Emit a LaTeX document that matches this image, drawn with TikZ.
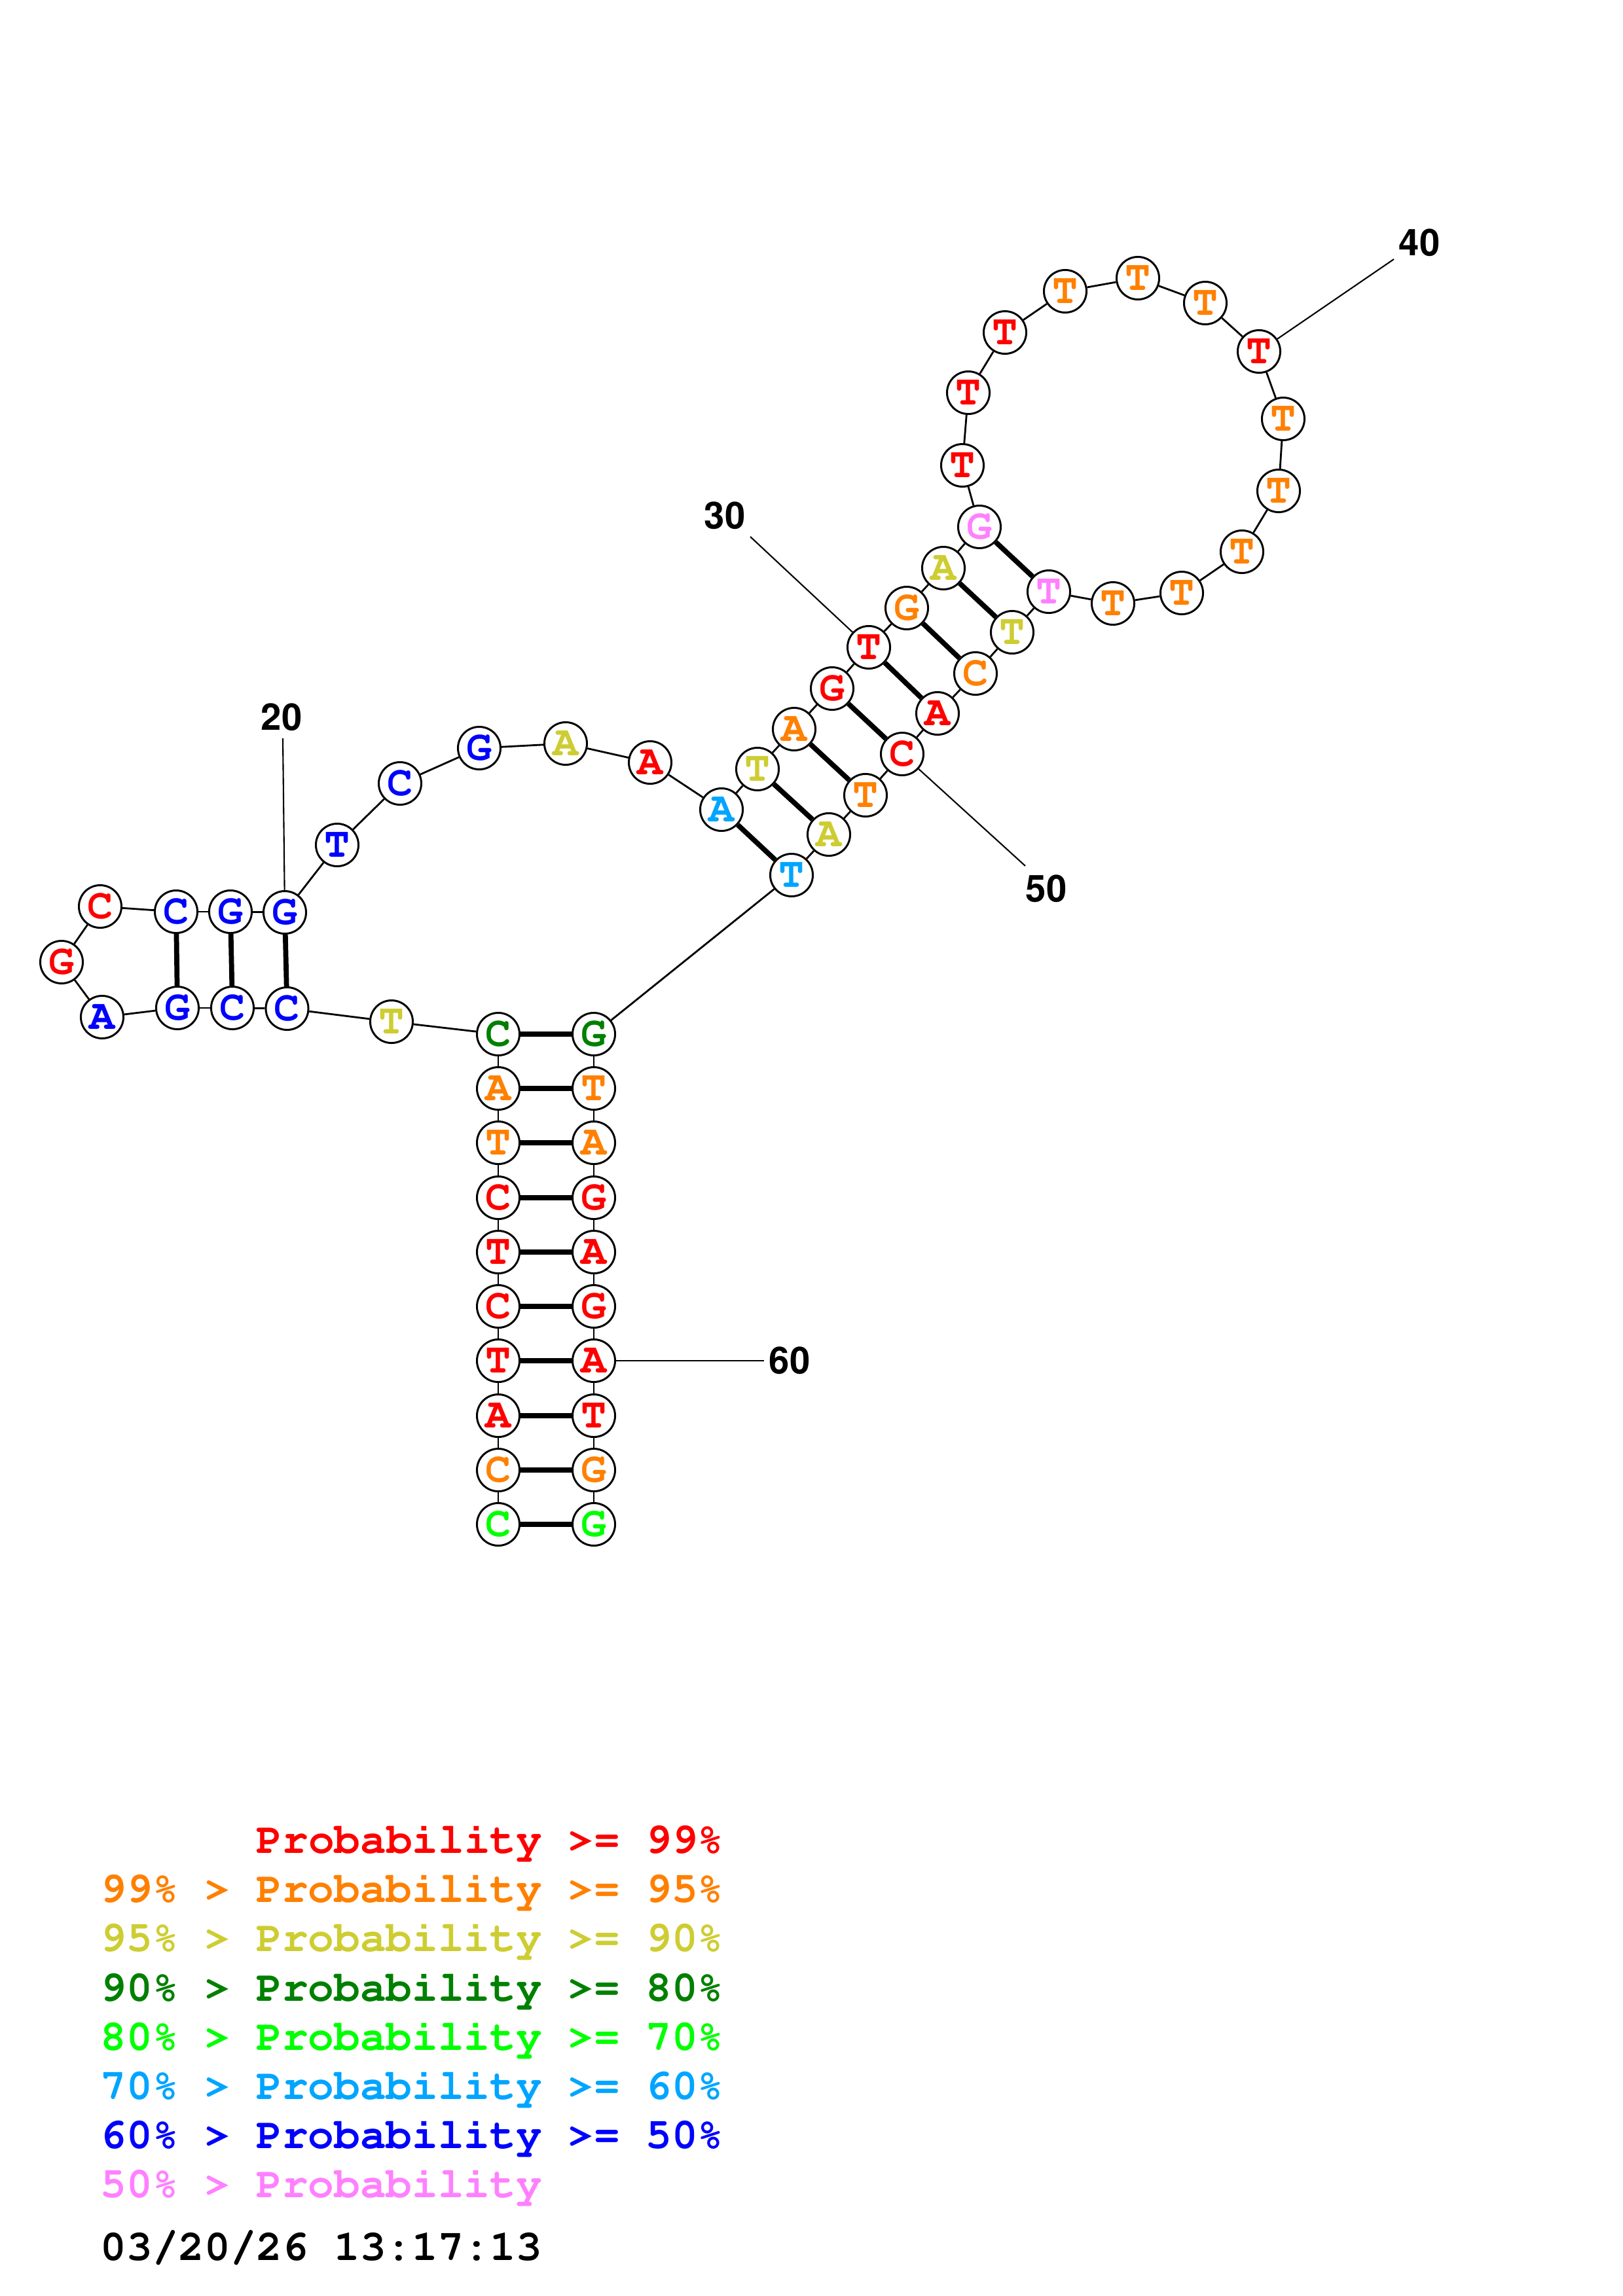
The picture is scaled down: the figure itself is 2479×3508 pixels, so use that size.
\documentclass[tikz,border=0pt]{standalone}
\usepackage[T1]{fontenc}
\definecolor{cR}{RGB}{255,0,0}
\definecolor{cO}{RGB}{255,128,0}
\definecolor{cY}{RGB}{205,205,50}
\definecolor{cDG}{RGB}{0,128,0}
\definecolor{cLG}{RGB}{0,255,0}
\definecolor{cSB}{RGB}{0,165,255}
\definecolor{cB}{RGB}{0,0,255}
\definecolor{cP}{RGB}{255,128,255}
\newcommand{\ntfont}{\fontfamily{pcr}\fontseries{b}\fontsize{18.5}{18.5}\selectfont}
\newcommand{\lgfont}{\fontfamily{pcr}\fontseries{b}\fontsize{18.8}{20}\selectfont}
\newcommand{\numfont}{\fontfamily{phv}\fontseries{b}\fontsize{16}{16}\selectfont}
\tikzset{
  nt/.style={circle, draw=black, line width=0.85pt, minimum size=0.65cm, inner sep=0pt, fill=white, font=\ntfont},
  bb/.style={line width=0.8pt},
  bp/.style={line width=2.2pt},
  lbl/.style={font=\numfont, inner sep=0pt},
  lbline/.style={line width=0.6pt},
  lg/.style={font=\lgfont, anchor=base west, inner sep=0pt}
}
\begin{document}
\begin{tikzpicture}[x=0.01cm, y=-0.01cm]
\useasboundingbox (0,0) rectangle (2479,3508);
% stem left
\node[nt,text=cLG] (n1) at (761,2329) {C};
\node[nt,text=cO] (n2) at (761,2246) {C};
\node[nt,text=cR] (n3) at (761,2163) {A};
\node[nt,text=cR] (n4) at (761,2079) {T};
\node[nt,text=cR] (n5) at (761,1996) {C};
\node[nt,text=cR] (n6) at (761,1913) {T};
\node[nt,text=cR] (n7) at (761,1830) {C};
\node[nt,text=cO] (n8) at (761,1746) {T};
\node[nt,text=cO] (n9) at (761,1663) {A};
\node[nt,text=cDG] (n10) at (761,1580) {C};
\node[nt,text=cY] (n11) at (598,1561) {T};
\node[nt,text=cB] (n12) at (438.5,1541) {C};
\node[nt,text=cB] (n13) at (355,1540) {C};
\node[nt,text=cB] (n14) at (271,1540) {G};
\node[nt,text=cB] (n15) at (156,1554) {A};
\node[nt,text=cR] (n16) at (94,1470) {G};
\node[nt,text=cR] (n17) at (153,1385) {C};
\node[nt,text=cB] (n18) at (269,1393) {C};
\node[nt,text=cB] (n19) at (352,1393) {G};
\node[nt,text=cB] (n20) at (435,1394) {G};
\node[nt,text=cB] (n21) at (515,1291) {T};
\node[nt,text=cB] (n22) at (611,1197) {C};
\node[nt,text=cB] (n23) at (732,1143) {G};
\node[nt,text=cY] (n24) at (864,1136) {A};
\node[nt,text=cR] (n25) at (993,1165) {A};
\node[nt,text=cSB] (n26) at (1102,1237) {A};
\node[nt,text=cY] (n27) at (1157,1175) {T};
\node[nt,text=cO] (n28) at (1213,1114) {A};
\node[nt,text=cR] (n29) at (1271,1052) {G};
\node[nt,text=cR] (n30) at (1327,989) {T};
\node[nt,text=cO] (n31) at (1385,929) {G};
\node[nt,text=cY] (n32) at (1441,868) {A};
\node[nt,text=cP] (n33) at (1496,805) {G};
\node[nt,text=cR] (n34) at (1470,711) {T};
\node[nt,text=cR] (n35) at (1479,600) {T};
\node[nt,text=cR] (n36) at (1535,508) {T};
\node[nt,text=cO] (n37) at (1627,445) {T};
\node[nt,text=cO] (n38) at (1738,425) {T};
\node[nt,text=cO] (n39) at (1841,463) {T};
\node[nt,text=cR] (n40) at (1923,537) {T};
\node[nt,text=cO] (n41) at (1960,640) {T};
\node[nt,text=cO] (n42) at (1953,750) {T};
\node[nt,text=cO] (n43) at (1897,843) {T};
\node[nt,text=cO] (n44) at (1805,906) {T};
\node[nt,text=cO] (n45) at (1700,922) {T};
\node[nt,text=cP] (n46) at (1602,904) {T};
\node[nt,text=cY] (n47) at (1546,966) {T};
\node[nt,text=cO] (n48) at (1490,1029) {C};
\node[nt,text=cR] (n49) at (1432,1090) {A};
\node[nt,text=cR] (n50) at (1378,1152) {C};
\node[nt,text=cO] (n51) at (1322,1215) {T};
\node[nt,text=cY] (n52) at (1266,1275) {A};
\node[nt,text=cSB] (n53) at (1209,1337) {T};
% stem right
\node[nt,text=cDG] (n54) at (907,1580) {G};
\node[nt,text=cO] (n55) at (907,1663) {T};
\node[nt,text=cO] (n56) at (907,1746) {A};
\node[nt,text=cR] (n57) at (907,1830) {G};
\node[nt,text=cR] (n58) at (907,1913) {A};
\node[nt,text=cR] (n59) at (907,1996) {G};
\node[nt,text=cR] (n60) at (907,2079) {A};
\node[nt,text=cR] (n61) at (907,2163) {T};
\node[nt,text=cO] (n62) at (907,2246) {G};
\node[nt,text=cLG] (n63) at (907,2329) {G};
% backbone
\foreach \i in {1,...,62}{
  \pgfmathtruncatemacro\j{\i+1}
  \draw[bb] (n\i) -- (n\j);
}
% base pairs
\foreach \i in {1,...,10}{
  \pgfmathtruncatemacro\j{64-\i}
  \draw[bp] (n\i) -- (n\j);
}
\foreach \a/\b in {12/20,13/19,14/18,26/53,27/52,28/51,29/50,30/49,31/48,32/47,33/46}{
  \draw[bp] (n\a) -- (n\b);
}
% number labels
\node[lbl] (L20) at (430,1096) {20};
\node[lbl] (L30) at (1107,788) {30};
\node[lbl] (L40) at (2168,371) {40};
\node[lbl] (L50) at (1598,1358) {50};
\node[lbl] (L60) at (1206,2079) {60};
\coordinate (e20) at (432,1128);
\coordinate (e30) at (1146,820);
\coordinate (e40) at (2129,396);
\coordinate (e50) at (1566,1323);
\coordinate (e60) at (1167,2079);
\draw[lbline] (e20) -- (n20);
\draw[lbline] (e30) -- (n30);
\draw[lbline] (e40) -- (n40);
\draw[lbline] (e50) -- (n50);
\draw[lbline] (e60) -- (n60);
% legend
\node[lg,text=cR] (g1) at (391,2831) {Probability >= 99\%};
\node[lg,text=cO] (g2) at (153,2906) {99\% > Probability >= 95\%};
\node[lg,text=cY] (g3) at (153,2981) {95\% > Probability >= 90\%};
\node[lg,text=cDG] (g4) at (153,3057) {90\% > Probability >= 80\%};
\node[lg,text=cLG] (g5) at (153,3132) {80\% > Probability >= 70\%};
\node[lg,text=cSB] (g6) at (153,3207) {70\% > Probability >= 60\%};
\node[lg,text=cB] (g7) at (153,3282) {60\% > Probability >= 50\%};
\node[lg,text=cP] (g8) at (153,3357) {50\% > Probability};
\node[lg,text=black] (g9) at (153,3453) {03/20/26 13:17:13};
\end{tikzpicture}
\end{document}
